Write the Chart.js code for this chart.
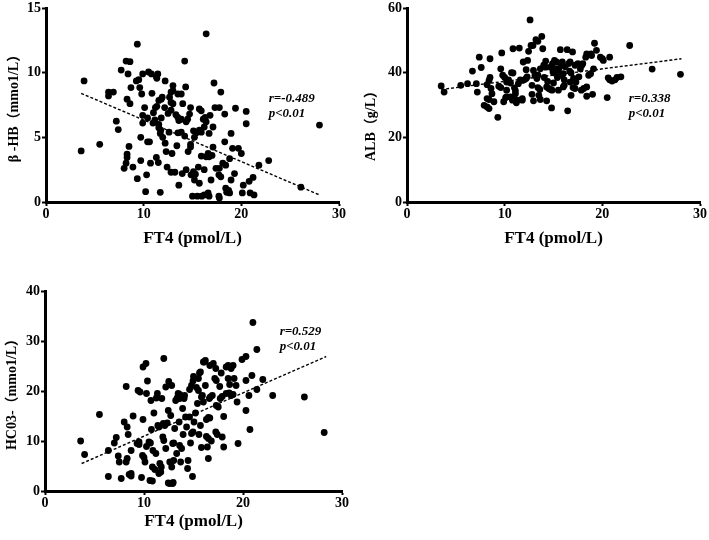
<!DOCTYPE html>
<html>
<head>
<meta charset="utf-8">
<script src="https://cdn.jsdelivr.net/npm/chart.js@4.4.0/dist/chart.umd.min.js"></script>
<style>
  body { margin: 0; background: #fff; }
  canvas { position: absolute; }
</style>
</head>
<body>
<canvas id="bhbChart" width="350" height="262" style="left:0;top:0"></canvas>
<canvas id="albChart" width="354" height="262" style="left:355px;top:0"></canvas>
<canvas id="hco3Chart" width="350" height="265" style="left:0;top:275px"></canvas>
<script>
// FT4 vs beta-HB  [FT4, value]
const bhbPoints = [
  [3.6,3.95],[3.9,9.36],[5.5,4.46],[6.4,8.5],[6.9,8.5],[6.4,8.2],[7.2,6.25],[7.4,5.6],[7.7,10.2],[8.0,2.6],
  [8.2,10.9],[8.6,10.85],[8.4,9.9],[8.3,7.95],[8.6,7.6],[8.5,4.3],[8.3,3.7],[8.3,3.45],[8.2,3.0],[8.7,8.85],
  [8.9,2.7],[9.35,12.2],[9.25,9.36],[9.5,9.46],[9.6,8.85],[9.8,8.35],[9.35,1.8],[9.7,5.0],[9.7,3.2],[9.9,9.9],
  [9.9,6.7],[9.9,6.1],[10.1,7.3],[10.2,0.8],[10.3,2.1],[10.4,4.65],[10.5,10.05],[10.8,9.9],[10.4,6.5],[10.6,4.65],
  [10.7,3.0],[10.85,8.4],[10.95,6.1],[11.0,6.9],[11.2,7.3],[11.35,7.4],[11.15,6.35],[11.3,3.45],[11.35,9.57],[11.45,9.9],
  [11.3,9.7],[11.55,7.85],[11.8,7.95],[11.9,8.1],[11.55,6.0],[11.55,5.75],[11.75,5.55],[11.7,5.3],[11.5,3.05],[11.7,0.75],
  [11.8,6.5],[11.95,5.0],[12.2,4.55],[12.15,7.3],[12.2,9.36],[12.3,3.9],[12.4,2.7],[12.5,6.85],[12.6,5.4],[12.65,8.1],
  [12.8,8.5],[13.0,8.6],[12.8,7.7],[13.0,7.6],[12.8,7.1],[12.8,2.3],[13.2,2.3],[12.9,3.75],[13.0,9.0],[13.3,6.75],
  [13.5,6.55],[13.4,4.35],[13.5,8.35],[13.85,8.35],[13.5,5.35],[13.85,5.4],[13.6,1.3],[13.6,6.3],[13.85,6.4],[13.95,2.2],
  [14.0,7.6],[14.2,10.9],[14.3,8.9],[14.35,6.2],[14.5,6.4],[14.2,5.1],[14.35,2.5],[14.55,3.9],[14.7,6.8],[14.8,7.3],
  [14.8,4.25],[14.8,4.45],[14.85,2.1],[15.0,0.45],[15.1,5.5],[15.2,5.0],[15.4,5.35],[15.1,2.35],[15.3,2.15],[15.2,1.7],
  [15.5,0.45],[15.6,2.7],[15.7,1.45],[15.7,7.2],[15.9,7.05],[15.7,5.55],[15.9,5.4],[15.9,3.55],[15.95,0.45],[16.2,0.55],
  [16.1,6.4],[16.3,6.55],[16.2,5.8],[16.2,2.5],[16.4,13.0],[16.4,6.2],[16.4,3.5],[16.6,3.75],[16.7,3.5],[16.6,0.7],
  [16.7,0.45],[16.7,5.3],[16.8,6.7],[16.9,1.7],[17.1,5.8],[17.0,3.6],[17.1,4.25],[17.2,9.2],[17.3,7.3],[17.4,2.6],
  [17.7,2.1],[17.7,0.45],[17.75,0.3],[17.75,7.3],[17.9,8.5],[17.75,2.6],[17.9,1.95],[18.1,3.0],[18.3,6.8],[18.3,4.65],
  [18.4,2.85],[18.4,1.07],[18.5,0.75],[18.7,0.9],[18.8,0.7],[18.8,3.35],[18.95,1.7],[18.95,5.3],[19.1,4.15],[19.3,2.2],
  [19.4,7.25],[19.7,4.15],[20.0,3.75],[20.1,0.7],[20.2,1.3],[20.5,7.0],[20.5,6.05],[20.8,1.6],[20.9,0.7],[21.2,1.9],
  [21.3,0.55],[21.8,2.85],[22.8,3.2],[26.1,1.15],[28.0,5.95]
];
const bhbFit = [[3.6,8.4],[28,0.55]];

// FT4 vs ALB
const albPoints = [
  [3.5,35.9],[3.8,34.0],[5.5,36.1],[6.2,36.6],[6.7,40.5],[7.1,36.6],[7.2,34.0],[7.4,44.8],[7.6,41.6],[7.9,29.9],
  [8.2,29.4],[8.4,28.9],[8.2,32.0],[8.4,31.7],[8.2,36.3],[8.4,37.6],[8.5,38.5],[8.5,44.3],[8.6,35.1],[8.7,33.5],
  [8.9,31.0],[9.3,26.2],[9.4,35.8],[9.6,35.4],[9.6,41.2],[9.7,46.1],[9.8,39.2],[10.0,38.5],[9.9,31.0],[10.1,32.3],
  [10.2,32.5],[10.2,37.1],[10.2,34.6],[10.4,37.8],[10.6,36.8],[10.6,32.5],[10.8,31.5],[10.9,32.3],[10.7,40.0],[10.85,39.9],
  [10.85,47.4],[11.0,35.3],[11.1,34.4],[11.1,33.5],[11.2,30.7],[11.3,31.5],[11.4,36.6],[11.5,47.6],[11.6,37.8],[11.8,37.6],
  [11.8,31.5],[11.8,32.0],[11.9,43.3],[12.0,37.8],[12.2,38.2],[12.2,40.9],[12.3,38.7],[12.35,43.8],[12.45,46.6],[12.6,56.3],
  [12.7,48.4],[12.9,48.4],[12.8,36.1],[12.8,33.3],[12.95,31.3],[12.95,40.7],[13.1,39.2],[13.2,50.2],[13.4,49.7],[13.3,38.2],
  [13.4,39.2],[13.4,35.4],[13.6,34.8],[13.5,33.0],[13.65,31.7],[13.65,41.2],[13.8,51.2],[13.9,47.4],[14.0,42.3],[14.2,41.7],
  [14.05,38.5],[14.2,43.6],[14.3,35.6],[14.5,35.1],[14.3,31.3],[14.4,37.3],[14.7,34.8],[14.85,34.6],[14.7,41.7],[14.9,42.8],
  [14.8,29.1],[14.95,40.2],[15.1,39.9],[15.0,36.8],[15.1,43.8],[15.3,43.3],[15.3,41.2],[15.4,40.7],[15.55,41.2],[15.4,38.5],
  [15.5,34.6],[15.7,47.1],[15.8,42.3],[15.9,43.3],[15.8,39.2],[16.0,39.7],[16.0,35.6],[16.1,36.1],[16.1,37.8],[16.2,41.8],
  [16.4,47.1],[16.45,28.2],[16.55,42.8],[16.7,43.3],[16.65,40.5],[16.8,39.9],[16.7,37.1],[16.8,33.0],[16.95,46.4],[17.0,35.4],
  [17.2,35.1],[17.05,38.2],[17.2,42.3],[17.5,42.8],[17.3,37.1],[17.6,38.7],[17.75,41.2],[17.85,34.6],[18.1,35.1],[17.9,42.3],
  [18.0,42.8],[18.3,44.8],[18.4,45.8],[18.4,35.6],[18.4,32.7],[18.6,39.2],[18.8,39.7],[18.85,45.8],[18.9,45.3],[19.0,33.3],
  [19.1,41.2],[19.2,49.1],[19.4,46.9],[19.8,44.8],[20.0,44.3],[20.1,43.8],[20.5,32.3],[20.75,44.8],[20.6,38.4],[20.75,37.8],
  [21.0,37.4],[21.3,37.8],[21.5,38.5],[21.9,38.7],[22.8,48.4],[25.1,41.1],[28.0,39.5]
];
const albFit = [[3.5,34.8],[28.1,44.3]];

// FT4 vs HCO3-
const hco3Points = [
  [3.6,10.0],[4.0,7.3],[5.5,15.3],[6.4,2.9],[6.4,8.1],[7.0,9.6],[7.2,10.7],[7.4,7.0],[7.5,5.8],[7.7,2.5],
  [8.0,13.8],[8.2,20.9],[8.3,12.8],[8.4,11.3],[8.3,6.5],[8.2,5.8],[8.5,3.3],[8.7,3.0],[8.7,3.5],[8.7,8.1],
  [8.9,15.0],[9.3,9.5],[9.5,9.8],[9.4,20.1],[9.6,19.8],[9.5,9.3],[9.75,2.7],[9.85,7.1],[10.0,6.7],[9.9,14.3],
  [9.9,24.8],[10.2,25.5],[10.1,5.8],[10.25,19.5],[10.25,8.9],[10.35,22.0],[10.5,9.8],[10.65,9.6],[10.6,2.1],[10.85,2.0],
  [10.7,18.1],[10.75,12.3],[10.85,4.8],[11.1,4.3],[10.9,8.1],[11.0,15.6],[11.2,7.5],[11.25,18.6],[11.35,19.5],[11.4,13.1],
  [11.5,12.8],[11.5,3.5],[11.7,3.8],[11.6,5.5],[11.75,4.8],[11.8,18.5],[11.9,10.8],[12.0,10.1],[11.95,13.5],[12.1,13.1],
  [12.0,26.5],[12.2,8.5],[12.2,20.8],[12.35,13.6],[12.45,16.1],[12.45,1.6],[12.6,1.5],[12.5,21.9],[12.6,5.8],[12.8,4.8],
  [12.7,15.1],[12.8,21.1],[12.9,9.5],[13.0,9.6],[12.9,1.5],[12.95,1.7],[13.0,6.1],[13.1,12.5],[13.2,18.1],[13.35,18.6],
  [13.6,18.5],[13.3,7.5],[13.45,19.5],[13.6,19.3],[13.55,13.8],[13.6,9.1],[13.8,8.5],[13.7,5.8],[13.9,16.5],[13.95,11.3],
  [14.05,18.5],[14.1,19.1],[14.2,14.8],[14.3,12.8],[14.4,4.5],[14.45,6.1],[14.6,20.3],[14.8,21.1],[14.6,14.8],[14.8,11.5],
  [14.95,11.8],[14.7,9.6],[14.9,2.9],[14.95,22.0],[15.0,22.9],[15.05,13.8],[15.2,15.6],[15.3,20.7],[15.5,20.1],[15.4,17.5],
  [15.5,22.5],[15.55,11.3],[15.6,23.6],[15.7,23.8],[15.7,13.1],[15.8,18.8],[15.9,19.1],[15.8,8.7],[16.0,25.8],[16.2,26.1],
  [16.1,25.8],[16.0,17.8],[16.2,21.1],[16.3,14.3],[16.5,14.7],[16.3,10.9],[16.5,10.5],[16.4,8.8],[16.5,6.5],[16.6,18.5],
  [16.7,18.8],[16.65,25.1],[16.65,14.6],[16.8,10.0],[16.9,19.1],[17.0,25.5],[17.15,22.5],[17.3,22.1],[17.25,24.5],[17.25,11.8],
  [17.4,11.3],[17.3,17.1],[17.5,16.8],[17.65,20.9],[17.7,18.5],[17.9,18.9],[17.8,23.6],[17.9,10.8],[18.05,14.9],[18.05,8.8],
  [18.3,24.8],[18.5,25.1],[18.3,19.5],[18.6,19.6],[18.5,22.5],[18.65,21.3],[18.8,24.5],[19.0,25.1],[18.8,19.1],[19.0,19.3],
  [19.1,22.5],[19.3,21.1],[19.4,17.8],[19.5,9.5],[19.9,26.3],[20.3,26.9],[20.3,22.1],[20.3,16.1],[20.6,19.1],[20.7,12.3],
  [20.9,23.1],[21.0,33.7],[21.4,28.3],[21.4,20.3],[22.0,22.3],[23.0,19.1],[26.2,18.8],[28.2,11.7]
];
const hco3Fit = [[3.7,5.5],[28.4,26.9]];

const FONT = '"Liberation Serif", "Noto Sans CJK SC", serif';

// r / p text next to each plot
const notePlugin = {
  id: 'note',
  afterDatasetsDraw(chart, args, opts) {
    const ctx = chart.ctx;
    const x = chart.scales.x.getPixelForValue(opts.at[0]);
    const y = chart.scales.y.getPixelForValue(opts.at[1]);
    ctx.save();
    ctx.font = 'italic bold 13px ' + FONT;
    ctx.fillStyle = '#000';
    ctx.textBaseline = 'middle';
    opts.lines.forEach((t, i) => ctx.fillText(t, x, y + i * 15));
    ctx.restore();
  }
};

function makeChart(id, points, fit, cfg) {
  const axis = {
    grid: { drawOnChartArea: false, drawTicks: true, tickLength: 4, tickWidth: 2, tickColor: '#000' },
    border: { color: '#000', width: 3 }
  };
  return new Chart(document.getElementById(id), {
    type: 'scatter',
    data: {
      datasets: [
        { data: points.map(p => ({ x: p[0], y: p[1] })), backgroundColor: '#000', borderWidth: 0, pointRadius: 3.4 },
        { data: fit.map(p => ({ x: p[0], y: p[1] })), showLine: true, borderColor: '#000', borderWidth: 1.4,
          borderDash: [3, 2], pointRadius: 0 }
      ]
    },
    options: {
      responsive: false,
      animation: false,
      layout: { padding: cfg.pad },
      plugins: {
        legend: { display: false },
        tooltip: { enabled: false },
        note: { lines: cfg.note, at: cfg.noteAt }
      },
      scales: {
        x: {
          ...axis,
          min: 0, max: 30,
          ticks: { stepSize: 10, padding: 1, color: '#000', font: { family: FONT, size: 14, weight: 'bold', lineHeight: 1 } },
          title: { display: true, text: 'FT4 (pmol/L)', color: '#000', padding: { bottom: cfg.xTitlePad },
                   font: { family: FONT, size: 17, weight: 'bold' } },
          afterFit: s => { s.height = cfg.xh; }
        },
        y: {
          ...axis,
          min: 0, max: cfg.yMax,
          ticks: { stepSize: cfg.yStep, padding: 1, color: '#000', font: { family: FONT, size: 14, weight: 'bold', lineHeight: 1 } },
          title: { display: true, text: cfg.yTitle, color: '#000', padding: { top: cfg.yTitlePad },
                   font: { family: FONT, size: 14, weight: 'bold' } },
          afterFit: s => { s.width = cfg.yw; }
        }
      }
    },
    plugins: [notePlugin]
  });
}

makeChart('bhbChart', bhbPoints, bhbFit, {
  pad: { top: 7, right: 11, bottom: 0, left: 0 }, xh: 60, yw: 46, xTitlePad: 13, yTitlePad: 6,
  yMax: 15, yStep: 5, yTitle: 'β -HB（mmo1/L）',
  note: ['r=-0.489', 'p<0.01'], noteAt: [22.8, 8.0]
});

makeChart('albChart', albPoints, albFit, {
  pad: { top: 7, right: 9, bottom: 0, left: 0 }, xh: 60, yw: 52, xTitlePad: 13, yTitlePad: 8,
  yMax: 60, yStep: 20, yTitle: 'ALB（g/L）\u3000\u3000\u3000',
  note: ['r=0.338', 'p<0.01'], noteAt: [22.7, 32]
});

makeChart('hco3Chart', hco3Points, hco3Fit, {
  pad: { top: 16, right: 8, bottom: 0, left: 0 }, xh: 49, yw: 45, xTitlePad: 8, yTitlePad: 4,
  yMax: 40, yStep: 10, yTitle: 'HC03-（mmo1/L）',
  note: ['r=0.529', 'p<0.01'], noteAt: [23.7, 31.8]
});
</script>
</body>
</html>
